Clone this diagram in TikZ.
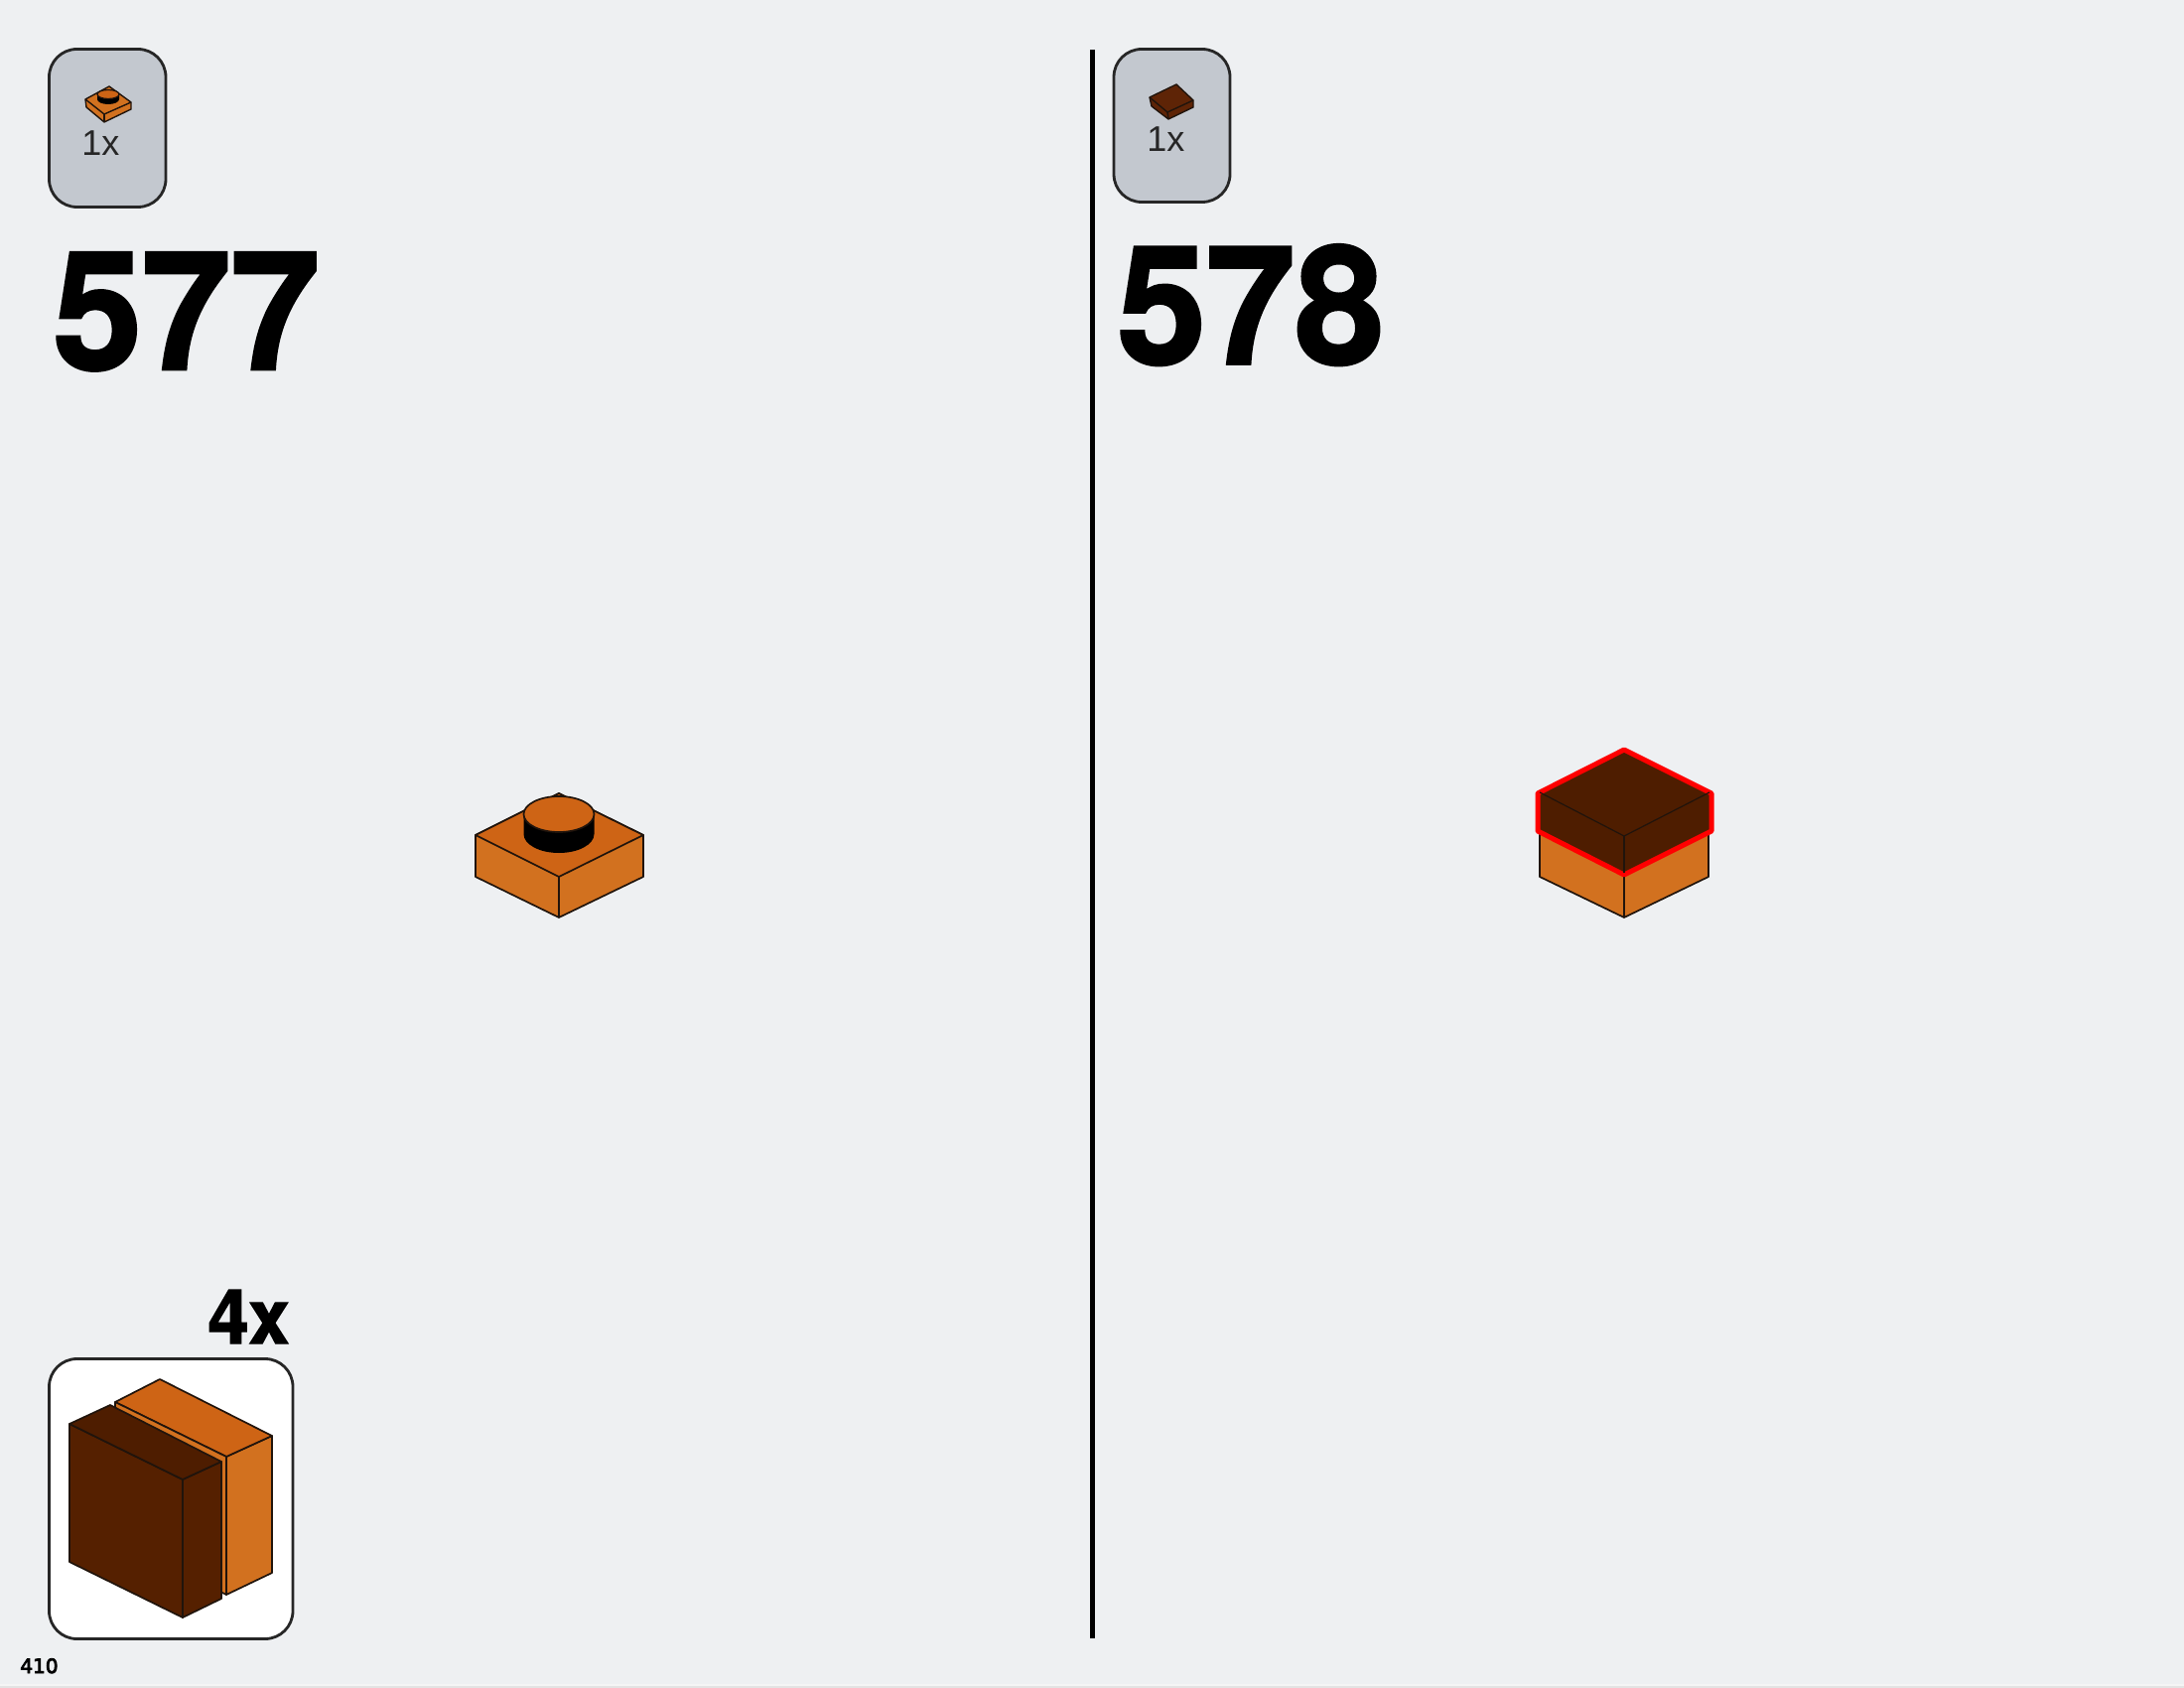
\documentclass[tikz,border=0pt]{standalone}
\usepackage{fontspec}
\setmainfont{Liberation Sans}
\newfontfamily\pagefont[FakeBold=4]{DejaVu Sans}
\newfontfamily\heavyfont[FakeBold=1.7,FakeStretch=0.97]{TeX Gyre Heros Bold}
\definecolor{pagebg}{HTML}{EEF0F2}
\definecolor{boxgrey}{HTML}{C3C8CF}
\definecolor{orgside}{HTML}{D2711F}
\definecolor{orgtop}{HTML}{CE6415}
\definecolor{darkbrown}{HTML}{4E1D00}
\definecolor{darkside}{HTML}{552000}
\definecolor{icondark}{HTML}{5E2406}
\definecolor{edge}{HTML}{20140C}
\tikzset{
  partbox/.style={draw=black!85,line width=1.4pt,fill=boxgrey,rounded corners=14pt},
  whitebox/.style={draw=black!85,line width=1.4pt,fill=white,rounded corners=14pt},
  facet/.style={draw=edge,line width=0.85pt,line join=round},
  thin facet/.style={draw=edge,line width=0.6pt,line join=round},
  icon facet/.style={draw=edge,line width=0.7pt,line join=round},
  stepno/.style={inner sep=0,anchor=base west,font=\heavyfont\fontsize{83}{83}\selectfont},
  qty/.style={inner sep=0,anchor=base west,text=black!85,font=\fontsize{18}{18}\selectfont},
}
\begin{document}
\begin{tikzpicture}[x=0.5pt,y=-0.5pt]
\useasboundingbox (0,0) rectangle (2200,1700);
\fill[pagebg] (0,0) rectangle (2200,1700);
\fill[black!4] (0,1696) rectangle (2200,1698);
\fill[black!11] (0,1698) rectangle (2200,1700);
% divider
\draw[line width=2.5pt,black] (1100,50) -- (1100,1650);
% part boxes
\path[partbox] (49.5,49.5) rectangle (167,208.5);
\path[partbox] (1122,49.5) rectangle (1239,203.5);
\path[whitebox] (49.5,1368.5) rectangle (295,1650.5);
% small brick icon
\fill[orgside,icon facet] (86,100) -- (87,108) -- (105,123) -- (132,110) -- (132,103) -- (110,87) -- cycle;
\draw[icon facet] (86,100) -- (105,115) -- (132,103);
\draw[icon facet] (105,115) -- (105,123);
\fill[black] (98,95) -- (98,100) arc[start angle=180,end angle=0,x radius=11,y radius=5] -- (120,95) -- cycle;
\fill[orgtop,thin facet] (109,95) ellipse[x radius=11,y radius=4.5];
% small tile icon
\fill[icondark,icon facet] (1158,98) -- (1160,107) -- (1177,120) -- (1202,108) -- (1202,101) -- (1185,85) -- cycle;
\draw[icon facet] (1158,98) -- (1176,113) -- (1202,101);
\draw[icon facet] (1176,113) -- (1177,120);
% step 577 brick
\fill[orgside,facet] (479,841) -- (479,883) -- (563,924) -- (648,883) -- (648,841) -- (563,799) -- cycle;
\fill[orgtop,facet] (479,841) -- (563,799) -- (648,841) -- (563,883) -- cycle;
\draw[thin facet] (563,883) -- (563,924);
\fill[black] (527.5,820) -- (527.5,840) arc[start angle=180,end angle=0,x radius=35.5,y radius=19] -- (598.5,820) -- cycle;
\fill[orgtop,facet] (563,820) ellipse[x radius=35.5,y radius=18];
% step 578 assembly
\fill[orgside,facet] (1551,838) -- (1551,883) -- (1636,924) -- (1721,883) -- (1721,838) -- (1636,879) -- cycle;
\draw[thin facet] (1636,879) -- (1636,924);
\fill[darkbrown] (1551,798) -- (1636,756) -- (1722,798) -- (1722,838) -- (1636,879) -- (1551,838) -- cycle;
\draw[draw=red,line width=2.5pt,line join=round] (1636,755) -- (1724,799) -- (1724,837) -- (1636,881) -- (1549,837) -- (1549,799) -- cycle;
\draw[thin facet] (1551,798) -- (1636,842) -- (1722,798);
\draw[thin facet] (1636,842) -- (1636,879);
% sub-assembly callout
\fill[orgside,facet] (228,1467) -- (274,1446) -- (274,1584) -- (228,1606) -- cycle;
\fill[orgtop,facet] (116,1412) -- (161,1389) -- (274,1446) -- (228,1467) -- cycle;
\fill[orgside,facet] (116,1412) -- (228,1467) -- (228,1606) -- (222,1603) -- (222,1473) -- (116,1419) -- cycle;
\fill[darkside,facet] (70,1434) -- (70,1573) -- (184,1629) -- (184,1490) -- cycle;
\fill[darkside,facet] (184,1490) -- (223,1472) -- (223,1610) -- (184,1629) -- cycle;
\fill[darkbrown,facet] (70,1434) -- (111,1415) -- (223,1472) -- (184,1490) -- cycle;
% texts
\node[stepno] (step577) at (53,372) {577};
\node[stepno] (step578) at (1125,366.5) {578};
\node[qty] (qty577) at (82,157) {1x};
\node[qty] (qty578) at (1155,153) {1x};
\node[inner sep=0,anchor=base east,font=\heavyfont\fontsize{38}{38}\selectfont] (mult) at (292,1353) {4x};
\node[inner sep=0,anchor=base west,font=\pagefont\fontsize{10}{10}\selectfont] (pageno) at (20,1685) {410};
\end{tikzpicture}
\end{document}
